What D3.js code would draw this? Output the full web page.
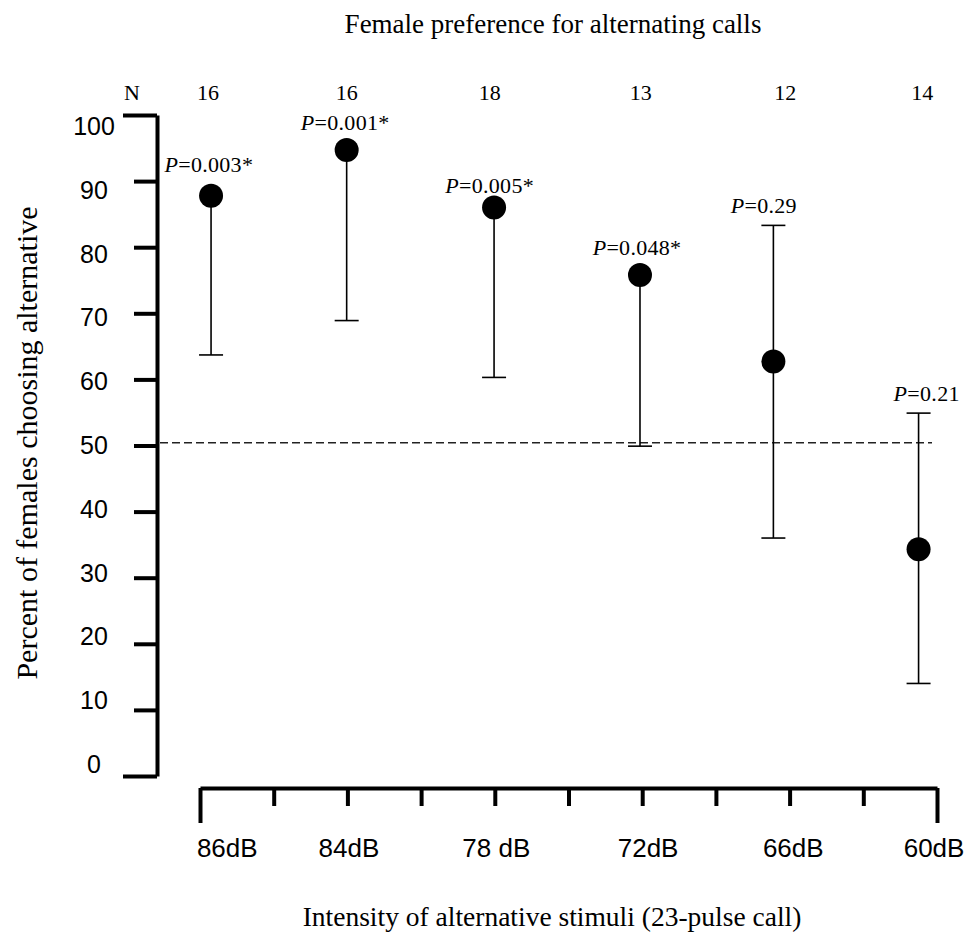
<!DOCTYPE html>
<html>
<head>
<meta charset="utf-8">
<script src="https://cdn.jsdelivr.net/npm/d3@7"></script>
<style>
  body { margin: 0; background: #fff; }
  svg { display: block; }
  .serif { font-family: "Liberation Serif", "Times New Roman", serif; }
  .sans { font-family: "Liberation Sans", Arial, sans-serif; }
</style>
</head>
<body>
<div id="chart"></div>
<script>
const width = 972;
const height = 937;

// Data
const categories = ['86dB', '84dB', '78 dB', '72dB', '66dB', '60dB'];
const sampleN = [16, 16, 18, 13, 12, 14];
const percent = [87.8, 94.7, 86.0, 75.8, 62.7, 34.3];
const ciLow = [63.7, 68.9, 60.3, 49.9, 36.0, 14.0];
const ciHigh = [null, null, null, null, 83.3, 54.9];
const pText = ['0.003*', '0.001*', '0.005*', '0.048*', '0.29', '0.21'];
const chance = 50.4;
const yTicks = d3.range(0, 101, 10);

// Layout along the x axis, in axis-tick units (0..10)
const pointAt = [0.15, 1.99, 3.99, 5.97, 7.78, 9.75];
const labelAt = [0.37, 2.02, 4.02, 6.08, 8.05, 9.96];
const nAt = [0.11, 1.99, 3.93, 5.98, 7.94, 9.80];
const pAt = [0.12, 1.97, 3.93, 5.93, 7.65, 9.86];
const pAtPct = [91.4, 97.7, 88.2, 78.8, 85.2, 56.8]; // P label baseline height

const x = d3.scaleLinear().domain([0, 10]).range([200, 937]);
const y = d3.scaleLinear().domain([0, 100]).range([776, 115]);
const yLabel = d3.scaleLinear().domain([0, 100]).range([773, 135]);

const svg = d3.select('#chart')
  .append('svg')
    .attr('width', width)
    .attr('height', height);

// Titles
svg.append('text')
  .attr('class', 'serif')
  .attr('x', 553).attr('y', 33)
  .attr('text-anchor', 'middle')
  .attr('font-size', 27)
  .text('Female preference for alternating calls');

svg.append('text')
  .attr('class', 'serif')
  .attr('x', 552).attr('y', 926)
  .attr('text-anchor', 'middle')
  .attr('font-size', 27.5)
  .text('Intensity of alternative stimuli (23-pulse call)');

svg.append('text')
  .attr('class', 'serif')
  .attr('transform', 'translate(37,443) rotate(-90)')
  .attr('text-anchor', 'middle')
  .attr('font-size', 30)
  .text('Percent of females choosing alternative');

// Y axis
const yAxis = svg.append('g')
  .attr('transform', 'translate(157,0)')
  .call(d3.axisLeft(y).tickValues(yTicks).tickSize(23).tickSizeOuter(0).tickFormat(''));
yAxis.select('.domain').attr('stroke', '#000').attr('stroke-width', 4);
yAxis.selectAll('.tick line')
  .attr('stroke', '#000')
  .attr('stroke-width', 4)
  .attr('x2', d => (d === 0 || d === 100) ? -34 : -23);

svg.append('g')
  .selectAll('text')
  .data(yTicks)
  .join('text')
    .attr('class', 'sans')
    .attr('x', 94)
    .attr('y', d => yLabel(d))
    .attr('text-anchor', 'middle')
    .attr('font-size', 25)
    .text(d => d);

// X axis
const xAxis = svg.append('g')
  .attr('transform', 'translate(0,788)')
  .call(d3.axisBottom(x).tickValues(d3.range(0, 11)).tickSize(18).tickSizeOuter(0).tickFormat(''));
xAxis.select('.domain').attr('stroke', '#000').attr('stroke-width', 4);
xAxis.selectAll('.tick line')
  .attr('stroke', '#000')
  .attr('stroke-width', 4)
  .attr('y2', d => (d === 0 || d === 10) ? 35 : 18);

svg.append('g')
  .selectAll('text')
  .data(categories)
  .join('text')
    .attr('class', 'sans')
    .attr('x', (d, i) => x(labelAt[i]))
    .attr('y', 857)
    .attr('text-anchor', 'middle')
    .attr('font-size', 26)
    .text(d => d);

// N row
svg.append('text')
  .attr('class', 'serif')
  .attr('x', 132).attr('y', 100)
  .attr('text-anchor', 'middle')
  .attr('font-size', 22)
  .text('N');
svg.append('g')
  .selectAll('text')
  .data(sampleN)
  .join('text')
    .attr('class', 'serif')
    .attr('x', (d, i) => x(nAt[i]))
    .attr('y', 100)
    .attr('text-anchor', 'middle')
    .attr('font-size', 22)
    .text(d => d);

// Chance line
svg.append('line')
  .attr('x1', 160).attr('x2', 932)
  .attr('y1', y(chance)).attr('y2', y(chance))
  .attr('stroke', '#222')
  .attr('stroke-width', 1.5)
  .attr('stroke-dasharray', '8,4');

// Error bars
const rows = categories.map((c, i) => ({
  i, c, v: percent[i], lo: ciLow[i], hi: ciHigh[i]
}));

const bars = svg.append('g')
  .attr('stroke', '#000')
  .attr('stroke-width', 1.6);

bars.selectAll('line.stem')
  .data(rows)
  .join('line')
    .attr('class', 'stem')
    .attr('x1', d => x(pointAt[d.i])).attr('x2', d => x(pointAt[d.i]))
    .attr('y1', d => y(d.hi == null ? d.v : d.hi))
    .attr('y2', d => y(d.lo));

bars.selectAll('line.lo')
  .data(rows)
  .join('line')
    .attr('class', 'lo')
    .attr('x1', d => x(pointAt[d.i]) - 12).attr('x2', d => x(pointAt[d.i]) + 12)
    .attr('y1', d => y(d.lo)).attr('y2', d => y(d.lo));

bars.selectAll('line.hi')
  .data(rows.filter(d => d.hi != null))
  .join('line')
    .attr('class', 'hi')
    .attr('x1', d => x(pointAt[d.i]) - 12).attr('x2', d => x(pointAt[d.i]) + 12)
    .attr('y1', d => y(d.hi)).attr('y2', d => y(d.hi));

// Points
svg.append('g')
  .selectAll('circle')
  .data(rows)
  .join('circle')
    .attr('cx', d => x(pointAt[d.i]))
    .attr('cy', d => y(d.v))
    .attr('r', 12)
    .attr('fill', '#000');

// P values
const pLabels = svg.append('g')
  .selectAll('text')
  .data(pText)
  .join('text')
    .attr('class', 'serif')
    .attr('x', (d, i) => x(pAt[i]))
    .attr('y', (d, i) => y(pAtPct[i]))
    .attr('text-anchor', 'middle')
    .attr('font-size', 22)
    .attr('letter-spacing', 0.3);
pLabels.append('tspan').attr('font-style', 'italic').text('P');
pLabels.append('tspan').text(d => '=' + d);
</script>
</body>
</html>
